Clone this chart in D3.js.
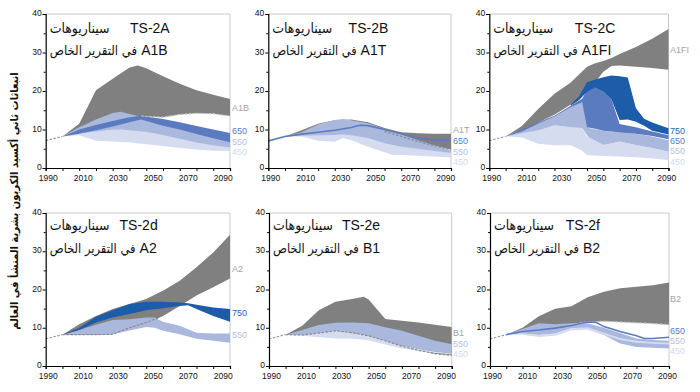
<!DOCTYPE html>
<html><head><meta charset="utf-8">
<script src="https://cdn.jsdelivr.net/npm/d3@7"></script>
<style>body{margin:0;background:#fff}svg{display:block}</style>
</head><body><svg id="c" width="700" height="392"></svg>
<script>
// ---------- data ----------
const historical = [[1990,7.1],[2000,8.2]];

// [year, low, high]
const a1bBase = [[2000,8.2,8.2],[2010,9.9,11.5],[2020,11.0,20.2],[2030,12.0,23.2],[2040,13.0,26.1],[2045,13.4,26.6],[2050,13.4,25.9],[2060,13.2,23.8],[2070,13.9,21.9],[2080,14.2,20.2],[2090,14.1,19.0],[2100,13.5,17.9]];
const a1b650 = [[2000,8.2,8.2],[2010,8.9,10.0],[2020,9.8,11.2],[2030,10.8,12.2],[2040,11.9,13.2],[2047,12.6,13.6],[2050,12.2,13.4],[2060,11.0,12.7],[2070,10.0,11.9],[2080,8.8,10.9],[2090,7.7,10.0],[2100,6.7,9.1]];
const a1b550 = [[2000,8.2,8.2],[2010,9.0,10.6],[2020,9.5,12.6],[2030,10.0,14.3],[2035,10.0,14.6],[2040,9.8,14.0],[2050,9.4,13.0],[2060,8.6,12.0],[2070,7.6,11.0],[2080,6.6,10.0],[2090,5.9,9.0],[2100,5.3,8.0]];
const a1b450 = [[2000,8.2,8.2],[2010,8.5,9.2],[2020,7.1,9.7],[2030,6.9,10.2],[2040,6.6,10.0],[2050,6.2,9.6],[2060,5.7,8.8],[2070,5.2,7.8],[2080,4.8,6.8],[2090,4.5,6.1],[2100,4.4,5.5]];
const a1bDash = [[2047,13.5],[2050,13.4],[2060,13.2],[2070,13.9],[2080,14.2],[2090,14.1],[2100,13.5]];

const a1tBase = [[2000,8.2,8.2],[2010,8.6,9.8],[2020,9.0,11.5],[2030,9.8,12.4],[2040,10.5,12.6],[2050,10.8,11.9],[2060,9.5,10.4],[2070,8.2,9.3],[2080,6.9,9.0],[2090,5.8,8.9],[2100,4.8,8.9]];
const a1t550 = [[2000,8.2,8.2],[2010,8.4,9.3],[2020,8.5,11.3],[2030,8.6,12.5],[2035,8.7,12.7],[2040,8.5,12.4],[2050,7.8,11.6],[2060,6.4,10.1],[2070,5.5,8.7],[2080,5.0,7.2],[2090,4.4,5.9],[2100,3.9,4.6]];
const a1t450 = [[2000,8.2,8.2],[2010,8.2,8.6],[2020,7.1,8.6],[2030,6.8,8.7],[2035,7.8,8.8],[2040,7.2,8.6],[2050,5.5,8.0],[2060,4.1,6.5],[2065,3.4,6.0],[2070,3.4,5.6],[2080,3.2,5.1],[2090,3.0,4.5],[2100,2.7,4.0]];
const a1t650Line = [[1990,7.0],[2000,8.2],[2010,8.8],[2020,9.3],[2030,9.8],[2040,10.5],[2045,11.1],[2050,11.0],[2060,10.0],[2070,8.9],[2080,7.8],[2090,7.2],[2100,7.2]];
const a1tDash = [[2060,9.5],[2070,8.2],[2080,6.9],[2090,5.8],[2100,4.8]];

const a1fiBase = [[2000,8.2,8.2],[2010,9.5,10.9],[2020,11.8,15.3],[2030,13.8,19.3],[2040,16.5,22.2],[2050,19.8,26.3],[2055,22.3,27.2],[2060,25.0,27.8],[2065,26.5,28.6],[2070,26.6,29.6],[2080,26.3,31.4],[2090,26.0,33.6],[2100,25.5,36.1]];
const a1fi750 = [[2040,16.2,16.5],[2045,17.6,18.6],[2050,19.8,22.3],[2055,21.0,23.0],[2060,19.8,23.6],[2065,17.8,24.0],[2070,12.5,23.8],[2075,12.6,23.5],[2080,12.0,15.5],[2085,11.0,12.8],[2090,9.7,11.8],[2100,8.7,10.3]];
const a1fi650 = [[2000,8.2,8.2],[2010,9.5,10.0],[2020,11.5,11.9],[2030,13.3,13.6],[2040,15.8,16.2],[2047,17.0,18.0],[2050,10.6,20.2],[2055,10.2,21.3],[2060,9.7,19.8],[2065,9.5,17.8],[2070,9.2,11.4],[2080,8.9,10.6],[2090,8.3,9.5],[2100,7.5,8.5]];
const a1fi550 = [[2000,8.2,8.2],[2010,9.0,9.9],[2020,9.8,11.5],[2030,11.1,13.3],[2040,10.6,15.8],[2047,10.4,17.0],[2051,8.0,10.4],[2060,6.0,9.7],[2070,6.9,9.2],[2080,6.0,8.9],[2090,5.2,8.2],[2100,4.3,7.2]];
const a1fi450 = [[2000,8.2,8.2],[2010,7.9,9.1],[2020,6.3,10.0],[2030,5.9,11.1],[2040,5.9,10.6],[2047,4.5,10.4],[2050,3.4,8.2],[2060,3.1,6.0],[2070,3.0,6.9],[2080,2.8,6.0],[2090,2.5,5.2],[2100,2.1,4.3]];

const a2Base = [[2000,8.2,8.2],[2010,8.2,10.9],[2020,8.2,13.1],[2030,8.3,14.9],[2040,10.0,16.2],[2050,11.4,17.5],[2058,12.7,19.3],[2060,13.1,19.7],[2070,15.7,22.3],[2080,18.4,25.8],[2090,20.6,29.7],[2100,22.9,34.3]];
const a2750 = [[2000,8.2,8.2],[2010,9.4,10.0],[2020,11.4,12.9],[2030,12.7,14.6],[2040,13.6,16.2],[2050,14.6,16.8],[2060,15.1,16.8],[2070,15.7,16.6],[2075,15.9,16.4],[2080,14.9,16.0],[2090,13.1,15.3],[2100,11.6,14.9]];
const a2550 = [[2000,8.2,8.2],[2010,8.2,9.4],[2020,8.2,10.8],[2030,8.3,12.0],[2040,9.3,12.2],[2050,10.2,12.7],[2055,10.0,12.7],[2060,9.2,11.6],[2070,8.3,10.5],[2080,7.1,8.7],[2090,6.6,8.5],[2100,6.1,8.5]];
const a2Dash = [[2000,8.2],[2010,8.2],[2020,8.2],[2030,8.3],[2040,10.0],[2050,11.4],[2058,12.7]];

const b1Base = [[2000,8.2,8.2],[2010,8.1,10.5],[2020,8.6,14.6],[2030,9.2,16.8],[2040,8.7,17.5],[2047,8.2,18.1],[2050,7.9,17.4],[2060,6.6,12.3],[2070,5.2,11.8],[2080,4.1,11.4],[2090,3.2,10.8],[2100,2.8,10.2]];
const b1550 = [[2000,8.2,8.2],[2010,8.1,9.4],[2020,8.6,10.7],[2030,9.2,11.3],[2040,8.7,11.4],[2050,7.9,11.2],[2060,6.6,10.1],[2070,5.4,9.2],[2080,4.5,7.9],[2090,3.8,6.6],[2100,3.3,5.7]];
const b1450 = [[2000,8.2,8.2],[2010,7.9,8.2],[2020,7.5,8.6],[2030,7.2,9.2],[2040,7.1,8.7],[2050,6.7,7.9],[2060,5.6,6.6],[2070,4.6,5.4],[2080,3.9,4.5],[2090,3.4,3.8],[2100,3.0,3.4]];
const b1Dash = [[2000,8.2],[2010,8.1],[2020,8.6],[2030,9.2],[2040,8.7],[2050,7.9],[2060,6.6],[2070,5.2],[2080,4.1],[2090,3.2],[2100,2.8]];

const b2Base = [[2000,8.2,8.2],[2010,9.0,10.0],[2020,9.5,13.0],[2030,10.0,15.0],[2040,11.0,15.6],[2050,11.5,18.0],[2060,11.7,19.4],[2070,11.5,20.3],[2080,11.3,20.7],[2090,11.1,21.1],[2100,10.8,21.8]];
const b2550 = [[2000,8.2,8.2],[2010,8.5,9.7],[2020,8.1,11.2],[2030,8.5,10.9],[2040,9.9,11.2],[2050,9.7,11.2],[2060,8.1,10.0],[2070,5.9,8.6],[2080,5.0,7.2],[2090,4.8,6.8],[2100,4.6,6.6]];
const b2450 = [[2000,8.2,8.2],[2010,8.2,8.5],[2020,7.6,8.1],[2030,7.9,8.5],[2040,9.3,9.9],[2050,9.5,10.1],[2060,8.1,8.7],[2070,6.8,7.3],[2080,6.1,6.6],[2090,5.8,6.3],[2100,5.6,6.1]];
const b2650Line = [[2000,8.2],[2010,9.0],[2020,9.4],[2030,9.9],[2040,10.6],[2050,11.5],[2055,11.4],[2060,10.3],[2070,9.0],[2080,7.9],[2085,7.2],[2090,7.2],[2100,7.5]];
const b2Dash = [[2045,11.3],[2050,11.5],[2060,11.7],[2070,11.5],[2080,11.3],[2090,11.1],[2100,10.8]];

const xTickYears = [1990,2000,2010,2020,2030,2040,2050,2060,2070,2080,2090,2100];
const xLabelYears = [1990,2010,2030,2050,2070,2090];
const yTicks = [0,10,20,30,40];
const yMinorTicks = [5,15,25,35];
const panelIds = ["TS-2A","TS-2B","TS-2C","TS-2d","TS-2e","TS-2f"];
const scenarioNames = ["A1B","A1T","A1FI","A2","B1","B2"];
const seriesWord = "سيناريوهات";
const reportPhrase = "في التقرير الخاص";
const yAxisTitle = "انبعاثات ثاني أكسيد الكربون بشرية المنشأ في العالم";

// ---------- styling ----------
const fill = {base:"#808080", s750:"#1d5ca9", s650:"#5b7bc1", s550:"#aab8dd", s450:"#d6dcef"};
const labelColor = {base:"#a3a3a3", s750:"#2b63b0", s650:"#5a7ac0", s550:"#b3bfe2", s450:"#d3d9ee"};
const latin = "'Liberation Sans', Arial, sans-serif";
const arabic = "'DejaVu Sans Condensed', 'DejaVu Sans', sans-serif";

const panels = [
  {x0:45.7, x1:230, top:14, bot:168, base:a1bBase, bands:[["s450",a1b450],["s550",a1b550],["s650",a1b650]], lines:[], dash:a1bDash,
   tR:124, cR:122, labels:[["base",107.7],["s650",131.3],["s550",141.5],["s450",151.7]], lx:232},
  {x0:268.3, x1:451, top:14, bot:168, base:a1tBase, bands:[["s450",a1t450],["s550",a1t550]], lines:[["s650",a1t650Line]], dash:a1tDash,
   tR:120, cR:118, labels:[["base",130.3],["s650",141.3],["s550",151.5],["s450",161.7]], lx:453},
  {x0:489.3, x1:668.5, top:14, bot:168, base:a1fiBase, bands:[["s450",a1fi450],["s550",a1fi550],["s650",a1fi650],["s750",a1fi750]], lines:[], dash:null,
   tR:126, cR:122, labels:[["base",50],["s750",130.9],["s650",141.1],["s550",151.3],["s450",161.5]], lx:670},
  {x0:45.7, x1:230, top:213, bot:366, base:a2Base, bands:[["s550",a2550],["s750",a2750]], lines:[], dash:a2Dash,
   tR:112, cR:111, labels:[["base",269],["s750",313.3],["s550",335]], lx:232},
  {x0:269, x1:451.7, top:213, bot:366, base:b1Base, bands:[["s450",b1450],["s550",b1550]], lines:[], dash:b1Dash,
   tR:111, cR:111, labels:[["base",333],["s550",343.4],["s450",353.6]], lx:453},
  {x0:490, x1:669, top:213, bot:366, base:b2Base, bands:[["s550",b2550],["s450",b2450]], lines:[["s650",b2650Line]], dash:b2Dash,
   tR:110, cR:110, labels:[["base",299.3],["s650",330.8],["s550",341],["s450",351.2]], lx:670}
];
const levelText = {s750:"750", s650:"650", s550:"550", s450:"450"};

const svg = d3.select("#c");
svg.append("rect").attr("width",700).attr("height",392).attr("fill","#fff");

// fit a text to a width by choosing its font size
function fitText(sel, baseSize, width){
  sel.attr("font-size", baseSize);
  const L = sel.node().getComputedTextLength();
  if (L > width) sel.attr("font-size", baseSize*width/L);
}

panels.forEach((p,i)=>{
  const x = d3.scaleLinear().domain([1990,2100]).range([p.x0,p.x1]);
  const xl = d3.scaleLinear().domain([1990,2090]).range([p.x0+2,p.x0+177]);
  const y = d3.scaleLinear().domain([0,40]).range([p.bot,p.top]);
  const g = svg.append("g");
  const area = d3.area().x(d=>x(d[0])).y0(d=>y(d[1])).y1(d=>y(d[2]));
  const line = d3.line().x(d=>x(d[0])).y(d=>y(d[1]));

  g.append("path").attr("d",`M${p.x0},${p.top}H${p.x1}V${p.bot}`).attr("fill","none").attr("stroke","#c9c9c9").attr("stroke-width",1);

  g.append("path").datum(p.base).attr("d",area).attr("fill",fill.base);
  p.bands.forEach(([k,data])=>{
    g.append("path").datum(data).attr("d",area).attr("fill",fill[k]);
  });
  g.append("path").datum(historical).attr("d",line).attr("fill","none").attr("stroke","#9a9a9a").attr("stroke-width",1.2).attr("stroke-dasharray","2.5,1.5");
  if(p.dash){
    g.append("path").datum(p.dash).attr("d",line).attr("fill","none").attr("stroke", i===0||i===5 ? "#c4c4c4" : "#8a8a8a").attr("stroke-width",1.2).attr("stroke-dasharray","2.5,1.5");
  }
  p.lines.forEach(([k,data])=>{
    g.append("path").datum(data).attr("d",line).attr("fill","none").attr("stroke",fill[k]).attr("stroke-width",1.6);
  });

  const yaxis = g.append("g").attr("transform",`translate(${p.x0},0)`)
    .call(d3.axisLeft(y).tickValues(yTicks).tickSize(3).tickPadding(1));
  yaxis.selectAll(".tick text").attr("dy","0.2em");
  g.append("g").attr("transform",`translate(${p.x0},0)`)
    .call(d3.axisLeft(y).tickValues(yMinorTicks).tickSize(2).tickFormat(""))
    .select(".domain").remove();
  g.append("g").attr("transform",`translate(0,${p.bot})`)
    .call(d3.axisBottom(x).tickValues(xTickYears).tickSize(3).tickFormat(""));
  const xla = g.append("g").attr("transform",`translate(0,${p.bot})`)
    .call(d3.axisBottom(xl).tickValues(xLabelYears).tickSize(0).tickPadding(7).tickFormat(d3.format("d")));
  xla.select(".domain").remove();
  g.selectAll(".domain").attr("stroke","#000").attr("stroke-width",1.2);
  g.selectAll(".tick line").attr("stroke","#000");
  g.selectAll(".tick text").attr("font-family",latin).attr("font-size",8.5).attr("fill","#111");

  // titles
  const b1 = p.top + (i<3 ? 18.5 : 17), b2 = p.top + (i<3 ? 41 : 40);
  g.append("text").attr("x",p.x0+p.tR).attr("y",b1).attr("text-anchor","end")
    .attr("font-family",latin).attr("font-size",14).attr("fill","#111").text(panelIds[i]);
  const sw = g.append("text").attr("x",p.x0+4).attr("y",b1).attr("text-anchor","start")
    .attr("font-family",arabic).attr("fill","#111").text(seriesWord);
  fitText(sw, 14, 60);
  const code = g.append("text").attr("x",p.x0+p.cR).attr("y",b2).attr("text-anchor","end")
    .attr("font-family",latin).attr("font-size",14).attr("fill","#111").text(scenarioNames[i]);
  const cw = code.node().getComputedTextLength();
  const phraseRight = p.x0+p.cR-cw-4;
  const ph = g.append("text").attr("x",phraseRight).attr("y",b2).attr("text-anchor","end")
    .attr("font-family",arabic).attr("fill","#111").text(reportPhrase);
  fitText(ph, 14, phraseRight-(p.x0+4));

  p.labels.forEach(([k,yy])=>{
    g.append("text").attr("x",p.lx).attr("y",yy).attr("dy","0.35em")
      .attr("font-family",latin).attr("font-size",9).attr("fill",labelColor[k])
      .text(k==="base" ? scenarioNames[i] : levelText[k]);
  });
});

// y-axis title
const yt = svg.append("text").attr("transform","translate(14,201) rotate(-90)")
  .attr("text-anchor","middle").attr("dy","0.35em").attr("font-family",arabic).attr("font-weight","bold")
  .attr("fill","#111").text(yAxisTitle);
fitText(yt, 13, 258);
</script></body></html>
